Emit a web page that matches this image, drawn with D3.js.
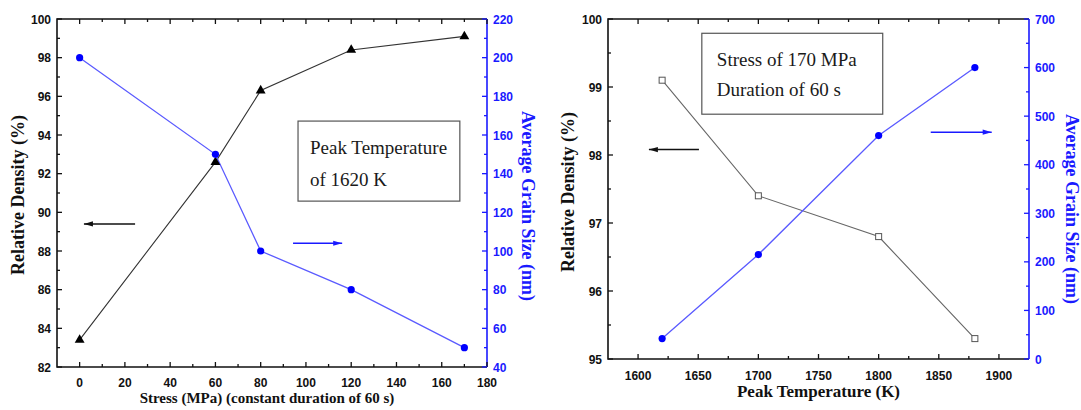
<!DOCTYPE html>
<html>
<head>
<meta charset="utf-8">
<script src="https://cdn.jsdelivr.net/npm/d3@7"></script>
<style>
  html, body { margin: 0; padding: 0; background: #fff; }
  svg { display: block; }
  .tick-label { font-family: "Liberation Sans", Arial, sans-serif; font-weight: bold; font-size: 12px; }
  .title { font-family: "Liberation Serif", "Times New Roman", serif; font-weight: bold; }
  .note { font-family: "Liberation Serif", "Times New Roman", serif; font-size: 19px; fill: #1a1a1a; }
</style>
</head>
<body>
<svg id="fig" width="1081" height="410"></svg>
<script>
// ---- Panel A: effect of applied stress (peak temperature 1620 K) ----
const stressMPa      = [0, 60, 80, 120, 170];
const densityStress  = [83.4, 92.6, 96.3, 98.4, 99.1];
const grainStress    = [200, 150, 100, 80, 50];
const stressTicks    = [0, 20, 40, 60, 80, 100, 120, 140, 160, 180];
const densityTicksA  = [82, 84, 86, 88, 90, 92, 94, 96, 98, 100];
const grainTicksA    = [40, 60, 80, 100, 120, 140, 160, 180, 200, 220];
const noteA          = ["Peak Temperature", "of 1620 K"];

// ---- Panel B: effect of peak temperature (170 MPa, 60 s) ----
const peakTempK      = [1620, 1700, 1800, 1880];
const densityTemp    = [99.1, 97.4, 96.8, 95.3];
const grainTemp      = [42, 215, 460, 600];
const tempTicks      = [1600, 1650, 1700, 1750, 1800, 1850, 1900];
const densityTicksB  = [95, 96, 97, 98, 99, 100];
const grainTicksB    = [0, 100, 200, 300, 400, 500, 600, 700];
const noteB          = ["Stress of 170 MPa", "Duration of 60 s"];

const BLUE = "#1a1aff";
const BLUE_LINE = "#5a5aff";
const svg = d3.select("#fig");

// Draws inward-pointing ticks (major + minor) along one side of the frame
function drawTicks(g, scale, values, minorValues, side, frame, color) {
  const [x0, x1, y0, y1] = frame;
  const mk = (v, len) => {
    const p = scale(v);
    let a;
    if (side === "bottom") a = [p, y1, p, y1 - len];
    else if (side === "top") a = [p, y0, p, y0 + len];
    else if (side === "left") a = [x0, p, x0 + len, p];
    else a = [x1, p, x1 - len, p];
    g.append("line").attr("x1", a[0]).attr("y1", a[1]).attr("x2", a[2]).attr("y2", a[3])
      .attr("stroke", color).attr("stroke-width", 1.3);
  };
  values.forEach(v => mk(v, 5));
  minorValues.forEach(v => mk(v, 3));
}

function arrow(g, xA, yA, xB, yB, color) {
  g.append("line").attr("x1", xA).attr("y1", yA).attr("x2", xB).attr("y2", yB)
    .attr("stroke", color).attr("stroke-width", 1.5);
  const dir = Math.sign(xB - xA);
  g.append("path")
    .attr("d", `M${xB},${yB} L${xB - dir * 9},${yB - 2.6} L${xB - dir * 9},${yB + 2.6} Z`)
    .attr("fill", color);
}

function panel(cfg) {
  const g = svg.append("g");
  const [x0, x1, y0, y1] = cfg.frame;
  const x = d3.scaleLinear().domain(cfg.xDomain).range([x0, x1]);
  const yL = d3.scaleLinear().domain(cfg.yLDomain).range([y1, y0]);
  const yR = d3.scaleLinear().domain(cfg.yRDomain).range([y1, y0]);

  // note box
  const bx0 = x(cfg.box[0]), bx1 = x(cfg.box[1]);
  const by0 = yL(cfg.box[2]), by1 = yL(cfg.box[3]);
  g.append("rect").attr("x", bx0).attr("y", by0).attr("width", bx1 - bx0).attr("height", by1 - by0)
    .attr("fill", "#fff").attr("stroke", "#555").attr("stroke-width", 1.2);
  cfg.note.forEach((t, i) => {
    g.append("text").attr("class", "note").attr("x", bx0 + cfg.noteDx)
      .attr("y", by0 + cfg.noteDy + i * cfg.noteGap).text(t);
  });

  // frame: black left/bottom/top, blue right
  g.append("path").attr("d", `M${x1},${y0} L${x0},${y0} L${x0},${y1} L${x1},${y1}`)
    .attr("fill", "none").attr("stroke", "#111").attr("stroke-width", 1.6);
  g.append("line").attr("x1", x1).attr("y1", y0).attr("x2", x1).attr("y2", y1)
    .attr("stroke", BLUE).attr("stroke-width", 1.6);

  drawTicks(g, x, cfg.xTicks, cfg.xMinor, "bottom", cfg.frame, "#111");
  drawTicks(g, x, cfg.xTicks, cfg.xMinor, "top", cfg.frame, "#111");
  drawTicks(g, yL, cfg.yLTicks, cfg.yLMinor, "left", cfg.frame, "#111");
  drawTicks(g, yR, cfg.yRTicks, cfg.yRMinor, "right", cfg.frame, BLUE);

  // tick labels
  cfg.xTicks.forEach(v => g.append("text").attr("class", "tick-label").attr("x", x(v)).attr("y", y1 + cfg.xLabelDy)
    .attr("text-anchor", "middle").attr("fill", "#111").text(v));
  cfg.yLTicks.forEach(v => g.append("text").attr("class", "tick-label").attr("x", x0 - 6).attr("y", yL(v) + 4.5)
    .attr("text-anchor", "end").attr("fill", "#111").text(v));
  cfg.yRTicks.forEach(v => g.append("text").attr("class", "tick-label").attr("x", x1 + 6).attr("y", yR(v) + 4.5)
    .attr("text-anchor", "start").attr("fill", BLUE).text(v));

  // axis titles
  g.append("text").attr("class", "title").attr("font-size", cfg.xTitleSize)
    .attr("x", (x0 + x1) / 2 + cfg.xTitleDx).attr("y", cfg.xTitleY).attr("text-anchor", "middle").attr("fill", "#111")
    .text(cfg.xTitle);
  g.append("text").attr("class", "title").attr("font-size", cfg.yTitleSize)
    .attr("transform", `translate(${cfg.yLTitleX},${cfg.yLTitleY}) rotate(-90)`)
    .attr("text-anchor", "middle").attr("dominant-baseline", "central").attr("fill", "#111")
    .text("Relative Density (%)");
  g.append("text").attr("class", "title").attr("font-size", cfg.yTitleSize)
    .attr("transform", `translate(${cfg.yRTitleX},${cfg.yRTitleY}) rotate(90)`)
    .attr("text-anchor", "middle").attr("dominant-baseline", "central").attr("fill", BLUE)
    .text("Average Grain Size (nm)");

  // series lines
  const dens = cfg.xs.map((v, i) => [v, cfg.dens[i]]);
  const grain = cfg.xs.map((v, i) => [v, cfg.grain[i]]);
  g.append("path").datum(dens).attr("fill", "none").attr("stroke", cfg.densLine).attr("stroke-width", 1.1)
    .attr("d", d3.line().x(d => x(d[0])).y(d => yL(d[1])));
  g.append("path").datum(grain).attr("fill", "none").attr("stroke", BLUE_LINE).attr("stroke-width", 1.3)
    .attr("d", d3.line().x(d => x(d[0])).y(d => yR(d[1])));

  // markers
  if (cfg.densMarker === "triangle") {
    g.selectAll(null).data(dens).join("path")
      .attr("transform", d => `translate(${x(d[0])},${yL(d[1])})`)
      .attr("d", d3.symbol(d3.symbolTriangle, 42)).attr("fill", "#000");
  } else {
    g.selectAll(null).data(dens).join("rect")
      .attr("x", d => x(d[0]) - 3).attr("y", d => yL(d[1]) - 3).attr("width", 6).attr("height", 6)
      .attr("fill", "#fff").attr("stroke", "#555").attr("stroke-width", 1);
  }
  g.selectAll(null).data(grain).join("circle")
    .attr("cx", d => x(d[0])).attr("cy", d => yR(d[1])).attr("r", 3.6).attr("fill", "#0000ff");

  // arrows pointing to the matching axis
  const a = cfg.arrowL, b = cfg.arrowR;
  arrow(g, x(a[0]), yL(a[2]), x(a[1]), yL(a[2]), "#111");
  arrow(g, x(b[0]), yR(b[2]), x(b[1]), yR(b[2]), BLUE);
}

panel({
  frame: [57, 487, 19, 367],
  xDomain: [-10, 180], yLDomain: [82, 100], yRDomain: [40, 220],
  xTicks: stressTicks, xMinor: [10, 30, 50, 70, 90, 110, 130, 150, 170],
  yLTicks: densityTicksA, yLMinor: [83, 85, 87, 89, 91, 93, 95, 97, 99],
  yRTicks: grainTicksA, yRMinor: [50, 70, 90, 110, 130, 150, 170, 190, 210],
  xs: stressMPa, dens: densityStress, grain: grainStress,
  densMarker: "triangle", densLine: "#333",
  box: [96.5, 168, 94.72, 90.58], note: noteA, noteDx: 12, noteDy: 33, noteGap: 32,
  arrowL: [24.5, 1.9, 89.4], arrowR: [94.3, 116, 104],
  xLabelDy: 20, xTitle: "Stress (MPa) (constant duration of 60 s)", xTitleSize: 15, xTitleY: 403, xTitleDx: -5,
  yTitleSize: 18, yLTitleX: 18, yLTitleY: 195, yRTitleX: 528, yRTitleY: 206
});

panel({
  frame: [608, 1029, 19, 359],
  xDomain: [1575, 1925], yLDomain: [95, 100], yRDomain: [0, 700],
  xTicks: tempTicks, xMinor: [1625, 1675, 1725, 1775, 1825, 1875],
  yLTicks: densityTicksB, yLMinor: [95.5, 96.5, 97.5, 98.5, 99.5],
  yRTicks: grainTicksB, yRMinor: [50, 150, 250, 350, 450, 550, 650],
  xs: peakTempK, dens: densityTemp, grain: grainTemp,
  densMarker: "square", densLine: "#666",
  box: [1653, 1803.4, 99.79, 98.6], note: noteB, noteDx: 15, noteDy: 33, noteGap: 30,
  arrowL: [1650.6, 1609, 98.08], arrowR: [1843.3, 1894, 467],
  xLabelDy: 21, xTitle: "Peak Temperature (K)", xTitleSize: 17, xTitleY: 397, xTitleDx: 0,
  yTitleSize: 18, yLTitleX: 568, yLTitleY: 192, yRTitleX: 1072, yRTitleY: 209
});
</script>
</body>
</html>
